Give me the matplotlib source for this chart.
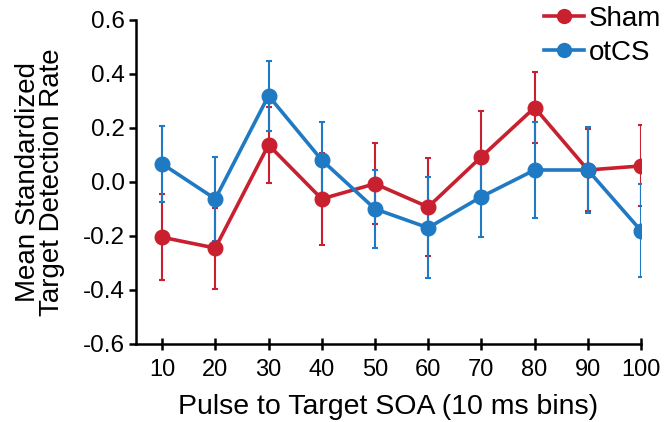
import numpy as np
import matplotlib
matplotlib.use("Agg")
import matplotlib.pyplot as plt
from matplotlib.lines import Line2D

plt.rcParams["font.family"] = ["Liberation Sans", "DejaVu Sans"]

soa = [10, 20, 30, 40, 50, 60, 70, 80, 90, 100]
sham_mean = [-0.205, -0.245, 0.137, -0.063, -0.007, -0.093, 0.093, 0.275, 0.044, 0.059]
sham_err = [0.16, 0.15, 0.14, 0.17, 0.15, 0.18, 0.17, 0.13, 0.15, 0.15]
otcs_mean = [0.067, -0.063, 0.319, 0.081, -0.100, -0.170, -0.055, 0.044, 0.044, -0.181]
otcs_err = [0.14, 0.155, 0.13, 0.14, 0.145, 0.187, 0.15, 0.177, 0.16, 0.172]
yticks = [-0.6, -0.4, -0.2, 0.0, 0.2, 0.4, 0.6]

red = "#C8202F"
blue = "#2079C3"

fig = plt.figure(figsize=(6.65, 4.22), dpi=100)
ax = fig.add_axes([0.2045, 0.185, 0.7595, 0.768])

handles = []
for mean, err, col, lab in [(sham_mean, sham_err, red, "Sham"),
                            (otcs_mean, otcs_err, blue, "otCS")]:
    ax.errorbar(soa, mean, yerr=err, color=col, lw=2.6, marker="o", ms=10.5,
                elinewidth=1.5, capsize=2.5, capthick=1.5)
    handles.append(Line2D([], [], color=col, lw=2.6, marker="o", ms=10, label=lab))

ax.set_xlim(5.1, 100)
ax.set_ylim(-0.6, 0.6)
ax.set_xticks(soa)
ax.set_yticks(yticks)
ax.set_yticklabels(["%.1f" % t for t in yticks])
ax.spines["top"].set_visible(False)
ax.spines["right"].set_visible(False)
ax.spines["left"].set_linewidth(1.8)
ax.spines["bottom"].set_linewidth(1.8)
ax.tick_params(axis="y", direction="out", length=5, width=1.8, labelsize=17.5, pad=3)
ax.tick_params(axis="x", direction="inout", length=9, width=1.8, labelsize=17, pad=6)
ax.set_xlabel("Pulse to Target SOA (10 ms bins)", fontsize=20.5, labelpad=10)
ax.set_ylabel("Mean Standardized\nTarget Detection Rate", fontsize=20, labelpad=13,
              linespacing=0.9)

ax.legend(handles=handles, loc="upper right", bbox_to_anchor=(1.072, 1.095),
          frameon=False, fontsize=20, handlelength=1.45, handletextpad=0.15,
          borderpad=0.1, labelspacing=0.3)

fig.savefig("out.png", dpi=100)
